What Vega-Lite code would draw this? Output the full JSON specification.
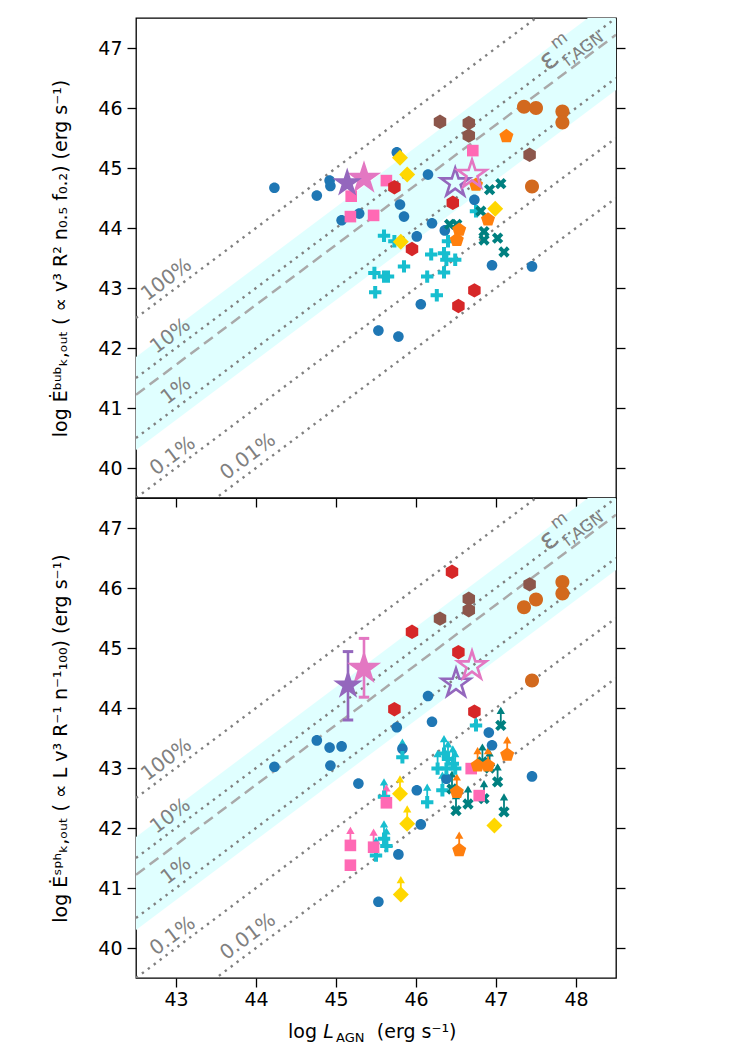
{
"$schema": "https://vega.github.io/schema/vega-lite/v6.json",
"padding": {"left": 50, "top": 17, "right": 5, "bottom": 5},
"spacing": 0,
"bounds": "flush",
"config": {
  "font": "DejaVu Sans",
  "view": {"stroke": "black", "strokeWidth": 1.3},
  "axis": {"grid": false, "domain": false, "tickSize": 9, "tickWidth": 1.3, "tickColor": "black", "labelFont": "DejaVu Sans", "labelFontSize": 19, "labelColor": "black", "labelPadding": 5, "titleFont": "DejaVu Sans", "titleFontSize": 19, "titleFontWeight": "normal", "titleColor": "black"}
},
"datasets": {
  "band": [{"x": 42.5, "y": 41.85, "y2": 40.3}, {"x": 48.5, "y": 47.85, "y2": 46.3}],
  "dotted": [
    {"eff": "100", "x": 42.5, "y": 42.5}, {"eff": "100", "x": 48.5, "y": 48.5},
    {"eff": "10", "x": 42.5, "y": 41.5}, {"eff": "10", "x": 48.5, "y": 47.5},
    {"eff": "1", "x": 42.5, "y": 40.5}, {"eff": "1", "x": 48.5, "y": 46.5},
    {"eff": "0.1", "x": 42.5, "y": 39.5}, {"eff": "0.1", "x": 48.5, "y": 45.5},
    {"eff": "0.01", "x": 42.5, "y": 38.5}, {"eff": "0.01", "x": 48.5, "y": 44.5}
  ],
  "dashed": [{"x": 42.5, "y": 41.22}, {"x": 48.5, "y": 47.22}],
  "labels": [
    {"t": "100%", "x": 42.88, "y": 43.14},
    {"t": "10%", "x": 42.93, "y": 42.2},
    {"t": "1%", "x": 43.0, "y": 41.29},
    {"t": "0.1%", "x": 42.96, "y": 40.2},
    {"t": "0.01%", "x": 43.9, "y": 40.19}
  ],
  "eps1": [{"t": "ε", "x": 47.66, "y": 46.79}],
  "eps2": [{"t": "m", "x": 47.79, "y": 47.12}],
  "eps3": [{"t": "f,AGN", "x": 48.09, "y": 46.98}],
  "xt1": [{"t": "log", "x": 44.4, "y": 38.5}, {"t": "(erg s⁻¹)", "x": 45.51, "y": 38.5}],
  "xt2": [{"t": "L", "x": 44.84, "y": 38.5}],
  "xt3": [{"t": "AGN", "x": 45.0, "y": 38.44}],
  "top": [
    {"g": "circ", "x": 44.23, "y": 44.67}, {"g": "circ", "x": 44.76, "y": 44.54}, {"g": "circ", "x": 44.92, "y": 44.79}, {"g": "circ", "x": 44.93, "y": 44.7}, {"g": "circ", "x": 45.76, "y": 45.26}, {"g": "circ", "x": 46.15, "y": 44.89}, {"g": "circ", "x": 45.8, "y": 44.39}, {"g": "circ", "x": 45.85, "y": 44.19}, {"g": "circ", "x": 45.07, "y": 44.13}, {"g": "circ", "x": 45.29, "y": 44.24}, {"g": "circ", "x": 46.2, "y": 44.08}, {"g": "circ", "x": 46.36, "y": 43.96}, {"g": "circ", "x": 46.01, "y": 43.86}, {"g": "circ", "x": 46.73, "y": 44.47}, {"g": "circ", "x": 46.95, "y": 43.38}, {"g": "circ", "x": 47.45, "y": 43.36}, {"g": "circ", "x": 46.06, "y": 42.73}, {"g": "circ", "x": 45.53, "y": 42.29}, {"g": "circ", "x": 45.78, "y": 42.19},
    {"g": "plus", "x": 45.6, "y": 43.87}, {"g": "plus", "x": 45.73, "y": 43.78}, {"g": "plus", "x": 45.48, "y": 43.25}, {"g": "plus", "x": 45.6, "y": 43.19}, {"g": "plus", "x": 45.65, "y": 43.19}, {"g": "plus", "x": 45.85, "y": 43.36}, {"g": "plus", "x": 45.49, "y": 42.93}, {"g": "plus", "x": 46.19, "y": 43.56}, {"g": "plus", "x": 46.35, "y": 43.58}, {"g": "plus", "x": 46.38, "y": 43.47}, {"g": "plus", "x": 46.49, "y": 43.47}, {"g": "plus", "x": 46.14, "y": 43.19}, {"g": "plus", "x": 46.35, "y": 43.26}, {"g": "plus", "x": 46.26, "y": 42.88}, {"g": "plus", "x": 46.4, "y": 43.78}, {"g": "plus", "x": 46.75, "y": 44.28},
    {"g": "xx", "x": 46.92, "y": 44.64}, {"g": "xx", "x": 47.06, "y": 44.74}, {"g": "xx", "x": 46.81, "y": 44.28}, {"g": "xx", "x": 46.42, "y": 44.06}, {"g": "xx", "x": 46.51, "y": 44.06}, {"g": "xx", "x": 46.85, "y": 43.94}, {"g": "xx", "x": 46.85, "y": 43.8}, {"g": "xx", "x": 47.02, "y": 43.83}, {"g": "xx", "x": 47.1, "y": 43.6},
    {"g": "sq", "x": 45.19, "y": 44.53}, {"g": "sq", "x": 45.18, "y": 44.19}, {"g": "sq", "x": 45.47, "y": 44.21}, {"g": "sq", "x": 45.63, "y": 44.79}, {"g": "sq", "x": 46.71, "y": 45.29},
    {"g": "dia", "x": 45.8, "y": 45.17}, {"g": "dia", "x": 45.89, "y": 44.89}, {"g": "dia", "x": 45.81, "y": 43.77}, {"g": "dia", "x": 46.99, "y": 44.32},
    {"g": "redhex", "x": 45.73, "y": 44.68}, {"g": "redhex", "x": 46.46, "y": 44.42}, {"g": "redhex", "x": 45.95, "y": 43.65}, {"g": "redhex", "x": 46.73, "y": 42.96}, {"g": "redhex", "x": 46.53, "y": 42.7},
    {"g": "brhex", "x": 46.3, "y": 45.77}, {"g": "brhex", "x": 46.66, "y": 45.75}, {"g": "brhex", "x": 46.66, "y": 45.54}, {"g": "brhex", "x": 47.42, "y": 45.22},
    {"g": "choc", "x": 47.35, "y": 46.02}, {"g": "choc", "x": 47.5, "y": 46.0}, {"g": "choc", "x": 47.83, "y": 45.94}, {"g": "choc", "x": 47.83, "y": 45.76}, {"g": "choc", "x": 47.45, "y": 44.69},
    {"g": "pent", "x": 47.13, "y": 45.53}, {"g": "pent", "x": 46.75, "y": 44.72}, {"g": "pent", "x": 46.9, "y": 44.14}, {"g": "pent", "x": 46.54, "y": 43.97}, {"g": "pent", "x": 46.51, "y": 43.8},
    {"g": "starpink", "x": 45.35, "y": 44.83}, {"g": "starpur", "x": 45.14, "y": 44.75}
  ],
  "tophollow": [{"g": "starpur", "x": 46.49, "y": 44.75}, {"g": "starpink", "x": 46.7, "y": 44.89}],
  "bot": [
    {"g": "circ", "x": 46.15, "y": 44.2, "lim": false}, {"g": "circ", "x": 46.2, "y": 43.77, "lim": false}, {"g": "circ", "x": 45.76, "y": 43.68, "lim": false}, {"g": "circ", "x": 44.76, "y": 43.46, "lim": false}, {"g": "circ", "x": 46.91, "y": 43.59, "lim": false}, {"g": "circ", "x": 44.23, "y": 43.02, "lim": false}, {"g": "circ", "x": 44.92, "y": 43.34, "lim": false}, {"g": "circ", "x": 45.07, "y": 43.36, "lim": false}, {"g": "circ", "x": 44.93, "y": 43.04, "lim": false}, {"g": "circ", "x": 45.28, "y": 42.74, "lim": false}, {"g": "circ", "x": 45.83, "y": 43.32, "lim": false}, {"g": "circ", "x": 46.01, "y": 42.63, "lim": false}, {"g": "circ", "x": 46.06, "y": 42.06, "lim": false}, {"g": "circ", "x": 45.78, "y": 41.56, "lim": false}, {"g": "circ", "x": 45.53, "y": 40.77, "lim": false}, {"g": "circ", "x": 46.38, "y": 42.82, "lim": false}, {"g": "circ", "x": 46.95, "y": 43.38, "lim": false}, {"g": "circ", "x": 47.45, "y": 42.86, "lim": false},
    {"g": "plus", "x": 45.83, "y": 43.18, "lim": true}, {"g": "plus", "x": 45.6, "y": 42.52, "lim": true}, {"g": "plus", "x": 45.6, "y": 41.82, "lim": true}, {"g": "plus", "x": 45.63, "y": 41.7, "lim": true}, {"g": "plus", "x": 45.5, "y": 41.54, "lim": true}, {"g": "plus", "x": 46.14, "y": 42.43, "lim": true}, {"g": "plus", "x": 46.27, "y": 42.99, "lim": true}, {"g": "plus", "x": 46.35, "y": 43.24, "lim": true}, {"g": "plus", "x": 46.38, "y": 42.99, "lim": true}, {"g": "plus", "x": 46.46, "y": 43.07, "lim": true}, {"g": "plus", "x": 46.33, "y": 42.63, "lim": true}, {"g": "plus", "x": 46.49, "y": 42.99, "lim": true}, {"g": "plus", "x": 46.4, "y": 43.15, "lim": true}, {"g": "plus", "x": 46.75, "y": 43.71, "lim": true},
    {"g": "xx", "x": 47.06, "y": 43.71, "lim": true}, {"g": "xx", "x": 46.83, "y": 43.1, "lim": true}, {"g": "xx", "x": 47.02, "y": 42.77, "lim": true}, {"g": "xx", "x": 47.1, "y": 42.27, "lim": true}, {"g": "xx", "x": 46.5, "y": 42.29, "lim": true}, {"g": "xx", "x": 46.65, "y": 42.4, "lim": true}, {"g": "xx", "x": 46.85, "y": 42.49, "lim": true}, {"g": "xx", "x": 46.92, "y": 43.0, "lim": true}, {"g": "xx", "x": 46.45, "y": 42.65, "lim": true},
    {"g": "sq", "x": 45.63, "y": 42.42, "lim": true}, {"g": "sq", "x": 45.18, "y": 41.71, "lim": true}, {"g": "sq", "x": 45.18, "y": 41.38, "lim": false}, {"g": "sq", "x": 45.47, "y": 41.68, "lim": true}, {"g": "sq", "x": 46.79, "y": 42.54, "lim": false}, {"g": "sq", "x": 46.69, "y": 42.99, "lim": false},
    {"g": "dia", "x": 45.8, "y": 42.57, "lim": true}, {"g": "dia", "x": 45.89, "y": 42.07, "lim": true}, {"g": "dia", "x": 45.81, "y": 40.89, "lim": true}, {"g": "dia", "x": 46.98, "y": 42.04, "lim": false},
    {"g": "redhex", "x": 46.45, "y": 46.27, "lim": false}, {"g": "redhex", "x": 45.95, "y": 45.27, "lim": false}, {"g": "redhex", "x": 46.53, "y": 44.93, "lim": false}, {"g": "redhex", "x": 45.73, "y": 43.98, "lim": false}, {"g": "redhex", "x": 46.73, "y": 43.94, "lim": false},
    {"g": "brhex", "x": 47.42, "y": 46.06, "lim": false}, {"g": "brhex", "x": 46.66, "y": 45.82, "lim": false}, {"g": "brhex", "x": 46.66, "y": 45.63, "lim": false}, {"g": "brhex", "x": 46.3, "y": 45.49, "lim": false},
    {"g": "choc", "x": 47.83, "y": 46.1, "lim": false}, {"g": "choc", "x": 47.83, "y": 45.91, "lim": false}, {"g": "choc", "x": 47.5, "y": 45.81, "lim": false}, {"g": "choc", "x": 47.35, "y": 45.68, "lim": false}, {"g": "choc", "x": 47.45, "y": 44.46, "lim": false},
    {"g": "pent", "x": 47.14, "y": 43.22, "lim": true}, {"g": "pent", "x": 46.77, "y": 43.04, "lim": true}, {"g": "pent", "x": 46.9, "y": 43.04, "lim": true}, {"g": "pent", "x": 46.54, "y": 41.63, "lim": true}, {"g": "pent", "x": 46.51, "y": 42.6, "lim": true},
    {"g": "starpink", "x": 45.35, "y": 44.66, "lim": false}, {"g": "starpur", "x": 45.15, "y": 44.38, "lim": false}
  ],
  "bothollow": [{"g": "starpur", "x": 46.5, "y": 44.41}, {"g": "starpink", "x": 46.7, "y": 44.7}],
  "err": [{"g": "starpink", "x": 45.35, "lo": 44.18, "hi": 45.16}, {"g": "starpur", "x": 45.15, "lo": 43.8, "hi": 44.94}]
},
"vconcat": [
{
  "width": 480, "height": 480,
  "encoding": {
    "x": {"field": "x", "type": "quantitative", "scale": {"domain": [42.5, 48.5], "nice": false, "zero": false}, "axis": {"values": [43, 44, 45, 46, 47, 48], "labels": false, "title": null}},
    "y": {"field": "y", "type": "quantitative", "scale": {"domain": [39.5, 47.5], "nice": false, "zero": false}, "axis": null}
  },
  "layer": [
    {"data": {"name": "band"}, "mark": {"type": "area", "color": "#e0ffff", "opacity": 1, "clip": true},
     "encoding": {"y": {"field": "y", "type": "quantitative", "scale": {"domain": [39.5, 47.5], "nice": false, "zero": false}, "axis": {"values": [40, 41, 42, 43, 44, 45, 46, 47], "title": "log Ėᵇᵘᵇₖ,ₒᵤₜ ( ∝ v³ R² n₀.₅ f₀.₂) (erg s⁻¹)", "titleX": -66}}, "y2": {"field": "y2"}}},
    {"data": {"name": "dotted"}, "mark": {"type": "line", "clip": true, "color": "#808080", "strokeWidth": 2.4, "strokeDash": [2.4, 5]},
     "encoding": {"detail": {"field": "eff"}, "y": {"field": "y", "type": "quantitative", "scale": {"domain": [39.5, 47.5], "nice": false, "zero": false}, "axis": {"orient": "right", "values": [40, 41, 42, 43, 44, 45, 46, 47], "labels": false, "title": null}}}},
    {"data": {"name": "dashed"}, "mark": {"type": "line", "clip": true, "color": "#a9a9a9", "strokeWidth": 2.5, "strokeDash": [11, 6]}, "encoding": {}},
    {"data": {"name": "labels"}, "mark": {"type": "text", "angle": -36.87, "fontSize": 20, "color": "#808080", "align": "center", "baseline": "middle"}, "encoding": {"text": {"field": "t"}}},
    {"data": {"name": "eps1"}, "mark": {"type": "text", "angle": -36.87, "fontSize": 28, "color": "#808080", "align": "center", "baseline": "middle"}, "encoding": {"text": {"field": "t"}}},
    {"data": {"name": "eps2"}, "mark": {"type": "text", "angle": -36.87, "fontSize": 17, "color": "#808080", "align": "center", "baseline": "middle"}, "encoding": {"text": {"field": "t"}}},
    {"data": {"name": "eps3"}, "mark": {"type": "text", "angle": -36.87, "fontSize": 16, "color": "#808080", "align": "center", "baseline": "middle"}, "encoding": {"text": {"field": "t"}}},
    {"data": {"name": "top"}, "mark": {"type": "point", "filled": true, "opacity": 1, "strokeWidth": 0, "size": 400},
     "encoding": {
       "color": {"field": "g", "type": "nominal", "legend": null, "scale": {"domain": ["circ", "plus", "xx", "sq", "dia", "redhex", "brhex", "choc", "pent", "starpink", "starpur"], "range": ["#1f77b4", "#17becf", "#008080", "#ff69b4", "#ffd700", "#d62728", "#8c564b", "#d2691e", "#ff7f0e", "#e377c2", "#9467bd"]}},
       "shape": {"field": "g", "type": "nominal", "legend": null, "scale": {"domain": ["circ", "plus", "xx", "sq", "dia", "redhex", "brhex", "choc", "pent", "starpink", "starpur"], "range": [
         "M-0.53,0A0.53,0.53,0,1,1,0.53,0A0.53,0.53,0,1,1,-0.53,0Z",
         "M-0.62,-0.2L-0.2,-0.2L-0.2,-0.62L0.2,-0.62L0.2,-0.2L0.62,-0.2L0.62,0.2L0.2,0.2L0.2,0.62L-0.2,0.62L-0.2,0.2L-0.62,0.2Z",
         "M-0.283,-0.566L0,-0.283L0.283,-0.566L0.566,-0.283L0.283,0L0.566,0.283L0.283,0.566L0,0.283L-0.283,0.566L-0.566,0.283L-0.283,0L-0.566,-0.283Z",
         "M-0.58,-0.58L0.58,-0.58L0.58,0.58L-0.58,0.58Z",
         "M0,-0.8L0.8,0L0,0.8L-0.8,0Z",
         "M0,-0.72L0.624,-0.36L0.624,0.36L0,0.72L-0.624,0.36L-0.624,-0.36Z",
         "M0,-0.72L0.624,-0.36L0.624,0.36L0,0.72L-0.624,0.36L-0.624,-0.36Z",
         "M-0.7,0A0.7,0.7,0,1,1,0.7,0A0.7,0.7,0,1,1,-0.7,0Z",
         "M0,-0.74L0.704,-0.229L0.435,0.599L-0.435,0.599L-0.704,-0.229Z",
         "M0,-1.8L0.404,-0.556L1.712,-0.556L0.653,0.212L1.058,1.456L0,0.688L-1.058,1.456L-0.653,0.212L-1.712,-0.556L-0.404,-0.556Z",
         "M0,-1.55L0.348,-0.479L1.474,-0.479L0.563,0.183L0.911,1.254L0,0.592L-0.911,1.254L-0.563,0.183L-1.474,-0.479L-0.348,-0.479Z"]}}
     }},
    {"data": {"name": "tophollow"}, "mark": {"type": "point", "filled": false, "opacity": 1, "strokeWidth": 2.6, "size": 400, "shape": "M0,-1.5L0.337,-0.464L1.427,-0.464L0.545,0.177L0.882,1.214L0,0.573L-0.882,1.214L-0.545,0.177L-1.427,-0.464L-0.337,-0.464Z"},
     "encoding": {"color": {"field": "g", "type": "nominal", "legend": null}}}
  ],
  "resolve": {"axis": {"y": "independent"}}
},
{
  "width": 480, "height": 480,
  "encoding": {
    "x": {"field": "x", "type": "quantitative", "scale": {"domain": [42.5, 48.5], "nice": false, "zero": false}, "axis": {"values": [43, 44, 45, 46, 47, 48], "title": null, "labelPadding": 3}},
    "y": {"field": "y", "type": "quantitative", "scale": {"domain": [39.5, 47.5], "nice": false, "zero": false}, "axis": null}
  },
  "layer": [
    {"data": {"name": "band"}, "mark": {"type": "area", "color": "#e0ffff", "opacity": 1, "clip": true},
     "encoding": {"y": {"field": "y", "type": "quantitative", "scale": {"domain": [39.5, 47.5], "nice": false, "zero": false}, "axis": {"values": [40, 41, 42, 43, 44, 45, 46, 47], "title": "log Ėˢᵖʰₖ,ₒᵤₜ ( ∝ L v³ R⁻¹ n⁻¹₁₀₀) (erg s⁻¹)", "titleX": -66}}, "y2": {"field": "y2"}}},
    {"data": {"name": "dotted"}, "mark": {"type": "line", "clip": true, "color": "#808080", "strokeWidth": 2.4, "strokeDash": [2.4, 5]},
     "encoding": {"detail": {"field": "eff"}, "y": {"field": "y", "type": "quantitative", "scale": {"domain": [39.5, 47.5], "nice": false, "zero": false}, "axis": {"orient": "right", "values": [40, 41, 42, 43, 44, 45, 46, 47], "labels": false, "title": null}}}},
    {"data": {"name": "dashed"}, "mark": {"type": "line", "clip": true, "color": "#a9a9a9", "strokeWidth": 2.5, "strokeDash": [11, 6]}, "encoding": {}},
    {"data": {"name": "labels"}, "mark": {"type": "text", "angle": -36.87, "fontSize": 20, "color": "#808080", "align": "center", "baseline": "middle"}, "encoding": {"text": {"field": "t"}}},
    {"data": {"name": "eps1"}, "mark": {"type": "text", "angle": -36.87, "fontSize": 28, "color": "#808080", "align": "center", "baseline": "middle"}, "encoding": {"text": {"field": "t"}}},
    {"data": {"name": "eps2"}, "mark": {"type": "text", "angle": -36.87, "fontSize": 17, "color": "#808080", "align": "center", "baseline": "middle"}, "encoding": {"text": {"field": "t"}}},
    {"data": {"name": "eps3"}, "mark": {"type": "text", "angle": -36.87, "fontSize": 16, "color": "#808080", "align": "center", "baseline": "middle"}, "encoding": {"text": {"field": "t"}}},
    {"data": {"name": "err"}, "mark": {"type": "rule", "strokeWidth": 2.6}, "encoding": {"y": {"field": "lo", "type": "quantitative"}, "y2": {"field": "hi"}, "color": {"field": "g", "type": "nominal", "legend": null}}},
    {"data": {"name": "err"}, "mark": {"type": "point", "shape": "stroke", "size": 110, "strokeWidth": 3, "opacity": 1}, "encoding": {"y": {"field": "lo", "type": "quantitative"}, "color": {"field": "g", "type": "nominal", "legend": null}}},
    {"data": {"name": "err"}, "mark": {"type": "point", "shape": "stroke", "size": 110, "strokeWidth": 3, "opacity": 1}, "encoding": {"y": {"field": "hi", "type": "quantitative"}, "color": {"field": "g", "type": "nominal", "legend": null}}},
    {"data": {"name": "bot"}, "transform": [{"filter": "datum.lim"}], "mark": {"type": "rule", "strokeWidth": 1.8, "y2Offset": -13}, "encoding": {"y2": {"field": "y"}, "color": {"field": "g", "type": "nominal", "legend": null}}},
    {"data": {"name": "bot"}, "transform": [{"filter": "datum.lim"}], "mark": {"type": "point", "shape": "triangle-up", "filled": true, "opacity": 1, "size": 70, "yOffset": -15}, "encoding": {"color": {"field": "g", "type": "nominal", "legend": null}}},
    {"data": {"name": "bot"}, "mark": {"type": "point", "filled": true, "opacity": 1, "strokeWidth": 0, "size": 400},
     "encoding": {
       "color": {"field": "g", "type": "nominal", "legend": null, "scale": {"domain": ["circ", "plus", "xx", "sq", "dia", "redhex", "brhex", "choc", "pent", "starpink", "starpur"], "range": ["#1f77b4", "#17becf", "#008080", "#ff69b4", "#ffd700", "#d62728", "#8c564b", "#d2691e", "#ff7f0e", "#e377c2", "#9467bd"]}},
       "shape": {"field": "g", "type": "nominal", "legend": null, "scale": {"domain": ["circ", "plus", "xx", "sq", "dia", "redhex", "brhex", "choc", "pent", "starpink", "starpur"], "range": [
         "M-0.53,0A0.53,0.53,0,1,1,0.53,0A0.53,0.53,0,1,1,-0.53,0Z",
         "M-0.62,-0.2L-0.2,-0.2L-0.2,-0.62L0.2,-0.62L0.2,-0.2L0.62,-0.2L0.62,0.2L0.2,0.2L0.2,0.62L-0.2,0.62L-0.2,0.2L-0.62,0.2Z",
         "M-0.283,-0.566L0,-0.283L0.283,-0.566L0.566,-0.283L0.283,0L0.566,0.283L0.283,0.566L0,0.283L-0.283,0.566L-0.566,0.283L-0.283,0L-0.566,-0.283Z",
         "M-0.58,-0.58L0.58,-0.58L0.58,0.58L-0.58,0.58Z",
         "M0,-0.8L0.8,0L0,0.8L-0.8,0Z",
         "M0,-0.72L0.624,-0.36L0.624,0.36L0,0.72L-0.624,0.36L-0.624,-0.36Z",
         "M0,-0.72L0.624,-0.36L0.624,0.36L0,0.72L-0.624,0.36L-0.624,-0.36Z",
         "M-0.7,0A0.7,0.7,0,1,1,0.7,0A0.7,0.7,0,1,1,-0.7,0Z",
         "M0,-0.74L0.704,-0.229L0.435,0.599L-0.435,0.599L-0.704,-0.229Z",
         "M0,-1.8L0.404,-0.556L1.712,-0.556L0.653,0.212L1.058,1.456L0,0.688L-1.058,1.456L-0.653,0.212L-1.712,-0.556L-0.404,-0.556Z",
         "M0,-1.55L0.348,-0.479L1.474,-0.479L0.563,0.183L0.911,1.254L0,0.592L-0.911,1.254L-0.563,0.183L-1.474,-0.479L-0.348,-0.479Z"]}}
     }},
    {"data": {"name": "bothollow"}, "mark": {"type": "point", "filled": false, "opacity": 1, "strokeWidth": 2.6, "size": 400, "shape": "M0,-1.5L0.337,-0.464L1.427,-0.464L0.545,0.177L0.882,1.214L0,0.573L-0.882,1.214L-0.545,0.177L-1.427,-0.464L-0.337,-0.464Z"},
     "encoding": {"color": {"field": "g", "type": "nominal", "legend": null}}},
    {"data": {"name": "xt1"}, "mark": {"type": "text", "fontSize": 19, "color": "black", "align": "left", "baseline": "alphabetic"}, "encoding": {"text": {"field": "t"}}},
    {"data": {"name": "xt2"}, "mark": {"type": "text", "fontSize": 19, "fontStyle": "italic", "color": "black", "align": "left", "baseline": "alphabetic"}, "encoding": {"text": {"field": "t"}}},
    {"data": {"name": "xt3"}, "mark": {"type": "text", "fontSize": 13, "color": "black", "align": "left", "baseline": "alphabetic"}, "encoding": {"text": {"field": "t"}}}
  ],
  "resolve": {"axis": {"y": "independent"}}
}
]
}
